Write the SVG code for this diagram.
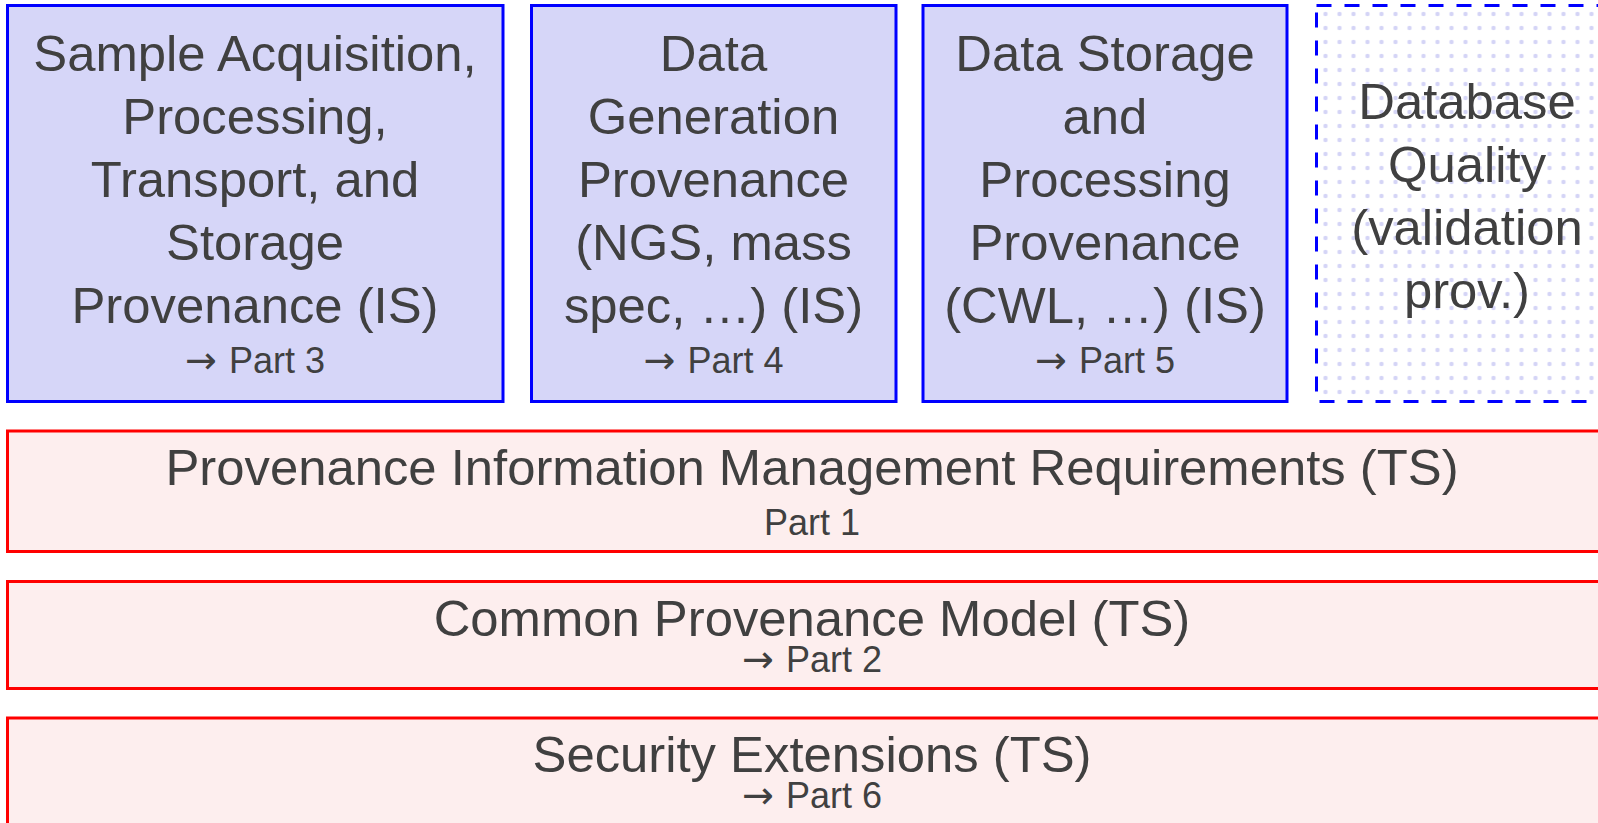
<svg xmlns="http://www.w3.org/2000/svg" width="1598" height="823" viewBox="0 0 1598 823">
  <style>
    .t { font-family: "Liberation Sans", Arial, sans-serif; fill: #404040; text-anchor: middle; }
    .big { font-size: 50.8px; }
    .small { font-size: 36px; }
    .arr { font-family: "DejaVu Sans", sans-serif; font-size: 38px; }
    .blue { fill: #d6d6f8; stroke: #0000ff; stroke-width: 3; }
    .red { fill: #fdeeee; stroke: #ff0000; stroke-width: 3; }
    .dash { fill: url(#dots); stroke: #0000ff; stroke-width: 3; stroke-dasharray: 15 13; }
  </style>
  <defs>
    <pattern id="dots" patternUnits="userSpaceOnUse" x="2.5" y="-7" width="14" height="14">
      <circle cx="7" cy="7" r="2.2" fill="#d4d4f6"/>
    </pattern>
  </defs>
  <rect width="1598" height="823" fill="#ffffff"/>

  <g id="connectors"></g>

  <g id="part3">
    <rect class="blue" x="7.5" y="5.5" width="495.5" height="396"/>
    <text class="t big" x="255" y="71">Sample Acquisition,</text>
    <text class="t big" x="255" y="134">Processing,</text>
    <text class="t big" x="255" y="197">Transport, and</text>
    <text class="t big" x="255" y="260">Storage</text>
    <text class="t big" x="255" y="323">Provenance (IS)</text>
    <text class="t small" x="255" y="373"><tspan class="arr">→</tspan><tspan dx="12">Part 3</tspan></text>
  </g>

  <g id="part4">
    <rect class="blue" x="531.5" y="5.5" width="364.5" height="396"/>
    <text class="t big" x="713.5" y="71">Data</text>
    <text class="t big" x="713.5" y="134">Generation</text>
    <text class="t big" x="713.5" y="197">Provenance</text>
    <text class="t big" x="713.5" y="260">(NGS, mass</text>
    <text class="t big" x="713.5" y="323">spec, …) (IS)</text>
    <text class="t small" x="713.5" y="373"><tspan class="arr">→</tspan><tspan dx="12">Part 4</tspan></text>
  </g>

  <g id="part5">
    <rect class="blue" x="923" y="5.5" width="364" height="396"/>
    <text class="t big" x="1105" y="71">Data Storage</text>
    <text class="t big" x="1105" y="134">and</text>
    <text class="t big" x="1105" y="197">Processing</text>
    <text class="t big" x="1105" y="260">Provenance</text>
    <text class="t big" x="1105" y="323">(CWL, …) (IS)</text>
    <text class="t small" x="1105" y="373"><tspan class="arr">→</tspan><tspan dx="12">Part 5</tspan></text>
  </g>

  <g id="dbquality">
    <rect class="dash" x="1316.5" y="5.5" width="301" height="396"/>
    <text class="t big" x="1467" y="119">Database</text>
    <text class="t big" x="1467" y="182">Quality</text>
    <text class="t big" x="1467" y="245">(validation</text>
    <text class="t big" x="1467" y="308">prov.)</text>
  </g>

  <g id="part1">
    <rect class="red" x="7.5" y="431" width="1610" height="120.5"/>
    <text class="t big" x="812" y="485">Provenance Information Management Requirements (TS)</text>
    <text class="t small" x="812" y="535">Part 1</text>
  </g>

  <g id="part2">
    <rect class="red" x="7.5" y="581.5" width="1610" height="107"/>
    <text class="t big" x="812" y="636">Common Provenance Model (TS)</text>
    <text class="t small" x="812" y="672"><tspan class="arr">→</tspan><tspan dx="12">Part 2</tspan></text>
  </g>

  <g id="part6">
    <rect class="red" x="7.5" y="718" width="1610" height="130"/>
    <text class="t big" x="812" y="771.5">Security Extensions (TS)</text>
    <text class="t small" x="812" y="808"><tspan class="arr">→</tspan><tspan dx="12">Part 6</tspan></text>
  </g>
</svg>
